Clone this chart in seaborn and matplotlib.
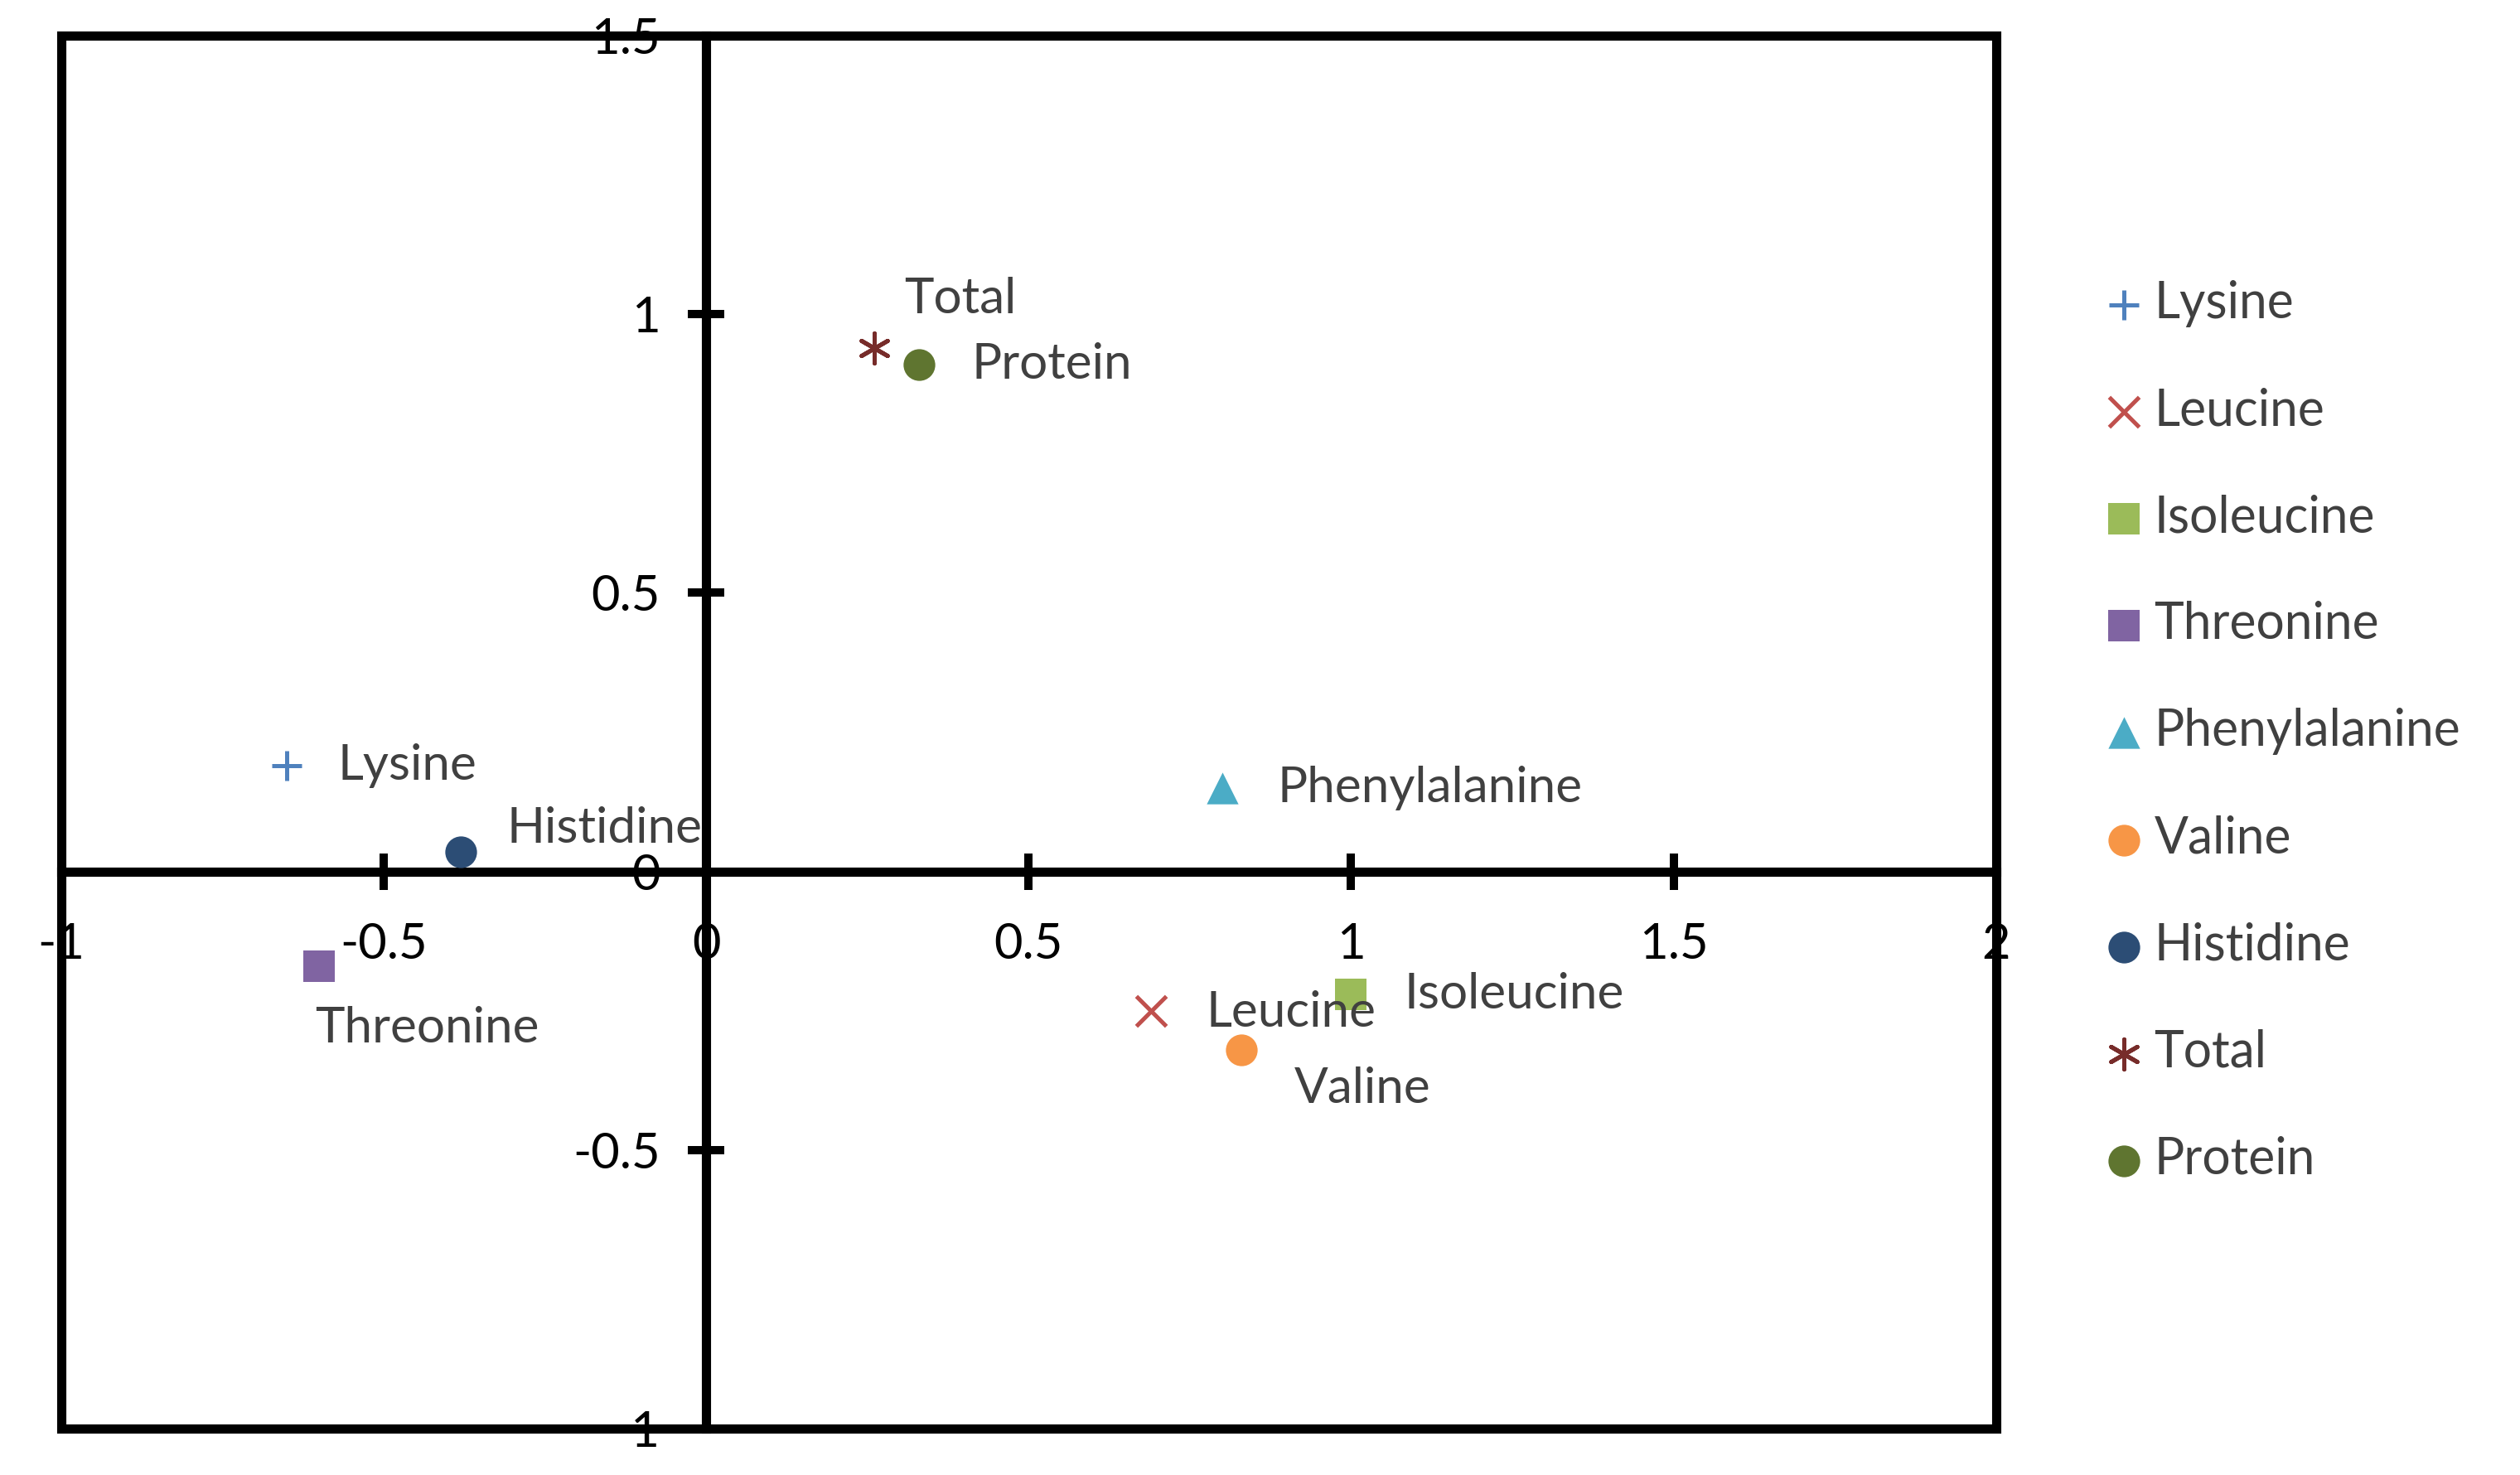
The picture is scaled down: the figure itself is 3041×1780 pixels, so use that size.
import seaborn as sns
import matplotlib.pyplot as plt
from matplotlib.patches import Rectangle

# values
names = ["Lysine", "Leucine", "Isoleucine", "Threonine", "Phenylalanine",
         "Valine", "Histidine", "Total", "Protein"]
x_vals = [-0.65, 0.69, 1.0, -0.60, 0.80, 0.83, -0.38, 0.26, 0.33]
y_vals = [0.19, -0.25, -0.22, -0.17, 0.15, -0.32, 0.035, 0.94, 0.91]
colors = ["#4F81BD", "#C0504D", "#9BBB59", "#8064A2", "#4BACC6",
          "#F79646", "#2C4D75", "#772C2A", "#5F7530"]
markers = ["+", "x", "s", "s", "^", "o", "o", (6, 2, 0), "o"]
label_offsets = [(22, 0), (24, -1), (23, 0), (-2, -27), (24, 0),
                 (23, -17), (20, 10), (13, 21), (23, 0)]
x_ticks = [-1, -0.5, 0, 0.5, 1, 1.5, 2]
y_ticks = [-1, -0.5, 0, 0.5, 1, 1.5]

sns.set_style("white")
plt.rcParams["font.family"] = ["Lato", "DejaVu Sans"]

fig = plt.figure(figsize=(15.205, 8.9), dpi=200)
ax = fig.add_axes([0.0243, 0.0315, 0.7678, 0.9443])

for i, name in enumerate(names):
    m = markers[i]
    line_art = m in ("+", "x") or isinstance(m, tuple)
    sns.scatterplot(x=[x_vals[i]], y=[y_vals[i]], ax=ax, marker=m,
                    color=colors[i], s=170 if line_art else 190,
                    linewidth=1.8 if line_art else 0, label=name, zorder=5)
    ax.annotate(name, (x_vals[i], y_vals[i]), xytext=label_offsets[i],
                textcoords="offset points", ha="left", va="center",
                fontsize=21.7, color="#404040", zorder=6)

ax.set_xlim(-1, 2)
ax.set_ylim(-1, 1.5)
ax.set_xticks(x_ticks)
ax.set_yticks(y_ticks)
ax.set_xticklabels([f"{t:g}" for t in x_ticks])
ax.set_yticklabels([f"{t:g}" for t in y_ticks])
ax.set_xlabel("")
ax.set_ylabel("")

ax.spines["left"].set_position(("data", 0))
ax.spines["bottom"].set_position(("data", 0))
ax.spines["top"].set_visible(False)
ax.spines["right"].set_visible(False)
for side in ("left", "bottom"):
    ax.spines[side].set_linewidth(4.0)
    ax.spines[side].set_color("black")
ax.add_patch(Rectangle((0, 0), 1, 1, transform=ax.transAxes, fill=False,
                       lw=4.0, edgecolor="black", clip_on=False, zorder=4))
ax.xaxis.set_ticks_position("bottom")
ax.yaxis.set_ticks_position("left")
ax.tick_params(axis="both", direction="inout", length=16, width=3.6,
               color="black", labelsize=21.5, labelcolor="black")
ax.tick_params(axis="x", pad=14)
ax.tick_params(axis="y", pad=12)

leg = ax.legend(loc="center left", bbox_to_anchor=(0.815, 0.504),
                bbox_transform=fig.transFigure, frameon=False, fontsize=21.8,
                labelspacing=1.19, handletextpad=0.1, handlelength=1.0,
                markerscale=1.0)
for t in leg.get_texts():
    t.set_color("#404040")

fig.savefig("out.png", dpi=200, facecolor="white")
